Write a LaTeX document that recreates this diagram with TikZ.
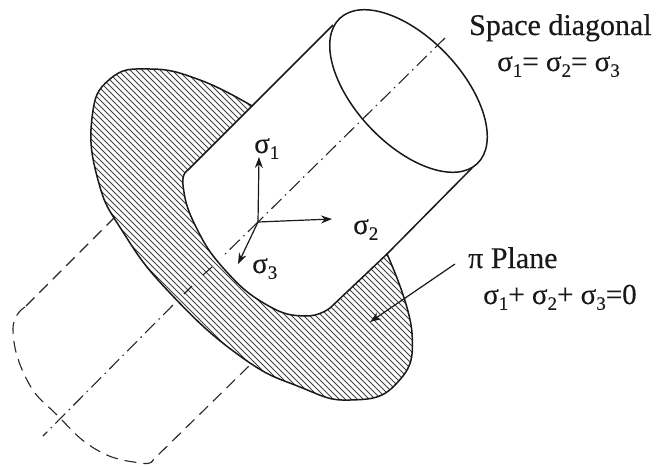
\documentclass[tikz,border=0pt]{standalone}
\usepackage{fontspec}
\setmainfont[FakeBold=0.25]{Liberation Serif}
\usetikzlibrary{arrows.meta}
\newcommand{\sg}[1]{σ\raisebox{-0.2em}{\fontsize{19}{19}\selectfont #1}}
\newcommand{\regionpath}{plot[smooth,tension=0.8] coordinates {(252,106) (200,80) (150,69) (110,79) (92,118) (98,180) (123,232) (170,293) (240,356) (300,387) (350,400) (396,384) (412,333) (387,254)}
 -- (330,308) -- plot[smooth,tension=0.8] coordinates {(330,308) (305,316) (267,305) (225,270) (195,225) (183,185) (188,170)} -- cycle}
\tikzset{
  outline/.style={line width=1.5pt,black!90},
  axisline/.style={line width=1.1pt,black!85,dash pattern=on 14pt off 5pt on 1.5pt off 5pt},
  hiddenline/.style={line width=1.1pt,black!85,dash pattern=on 12pt off 7pt},
  hatchline/.style={line width=1pt,black!75},
  vec/.style={line width=1.2pt,black!90,-{Stealth[length=11pt,width=8pt]}},
  lab/.style={inner sep=0pt,font=\fontsize{29}{31}\selectfont,black!90},
  title/.style={inner sep=0pt,font=\fontsize{30}{32}\selectfont,black!90}
}
\begin{document}
\begin{tikzpicture}[x=1pt,y=-1pt]
\useasboundingbox (0,0) rectangle (668,466);
\fill[white] (0,0) rectangle (668,466);
% hatched pi plane
\begin{scope}
\clip \regionpath;
\foreach \c in {-420,-414,...,420}{
  \draw[hatchline] (\c,0) -- (\c+466,466);
}
\end{scope}
\draw[outline] \regionpath;
% cylinder
\coordinate (c1) at (252,106);
\coordinate (c2) at (333,25);
\coordinate (c3) at (387,254);
\coordinate (c4) at (472,168);
\draw[outline] (c1) -- (c2);
\draw[outline] (c3) -- (c4);
\draw[outline,shift={(408.5,91)},rotate=-46.6] (0,0) ellipse [x radius=100pt,y radius=53pt];
% axis
\coordinate (o) at (258,222);
\coordinate (a0) at (445,38);
\coordinate (a1) at (222,257);
\coordinate (a2) at (212,267);
\coordinate (a3) at (203,275);
\coordinate (a4) at (192,286);
\coordinate (a5) at (184,294);
\coordinate (a6) at (173,305);
\coordinate (a7) at (43,436);
\draw[axisline] (a0) -- (o);
\draw[axisline] (o) -- (a1);
\draw[line width=1.1pt,black!85] (a2) -- (a3) (a4) -- (a5);
\draw[axisline] (a6) -- (a7);
% hidden cylinder
\draw[hiddenline] (115,217) -- (25,307) plot[smooth,tension=0.8] coordinates {(25,307) (13,330) (27,380) (57,415) (97,450) (140,463) (153,460)} -- (250,365);
% vectors
\coordinate (e1) at (259,157);
\coordinate (e2) at (332,219);
\coordinate (e3) at (238,264);
\draw[vec] (o) -- (e1);
\draw[vec] (o) -- (e2);
\draw[vec] (o) -- (e3);
% labels
\node[lab,anchor=base west] (s1) at (254,153) {\sg{1}};
\node[lab,anchor=base west] (s2) at (353,234) {\sg{2}};
\node[lab,anchor=base west] (s3) at (252,273) {\sg{3}};
\node[title,anchor=base west] (t1) at (469,35) {Space diagonal};
\node[lab,anchor=base west] (t2) at (497,71) {\sg{1}= \sg{2}= \sg{3}};
\node[title,anchor=base west] (t3) at (468,268) {π Plane};
\node[lab,anchor=base west] (t4) at (483,304) {\sg{1}+ \sg{2}+ \sg{3}=0};
\coordinate (p0) at (455,264);
\coordinate (p1) at (370,322);
\draw[vec] (p0) -- (p1);
\end{tikzpicture}
\end{document}
